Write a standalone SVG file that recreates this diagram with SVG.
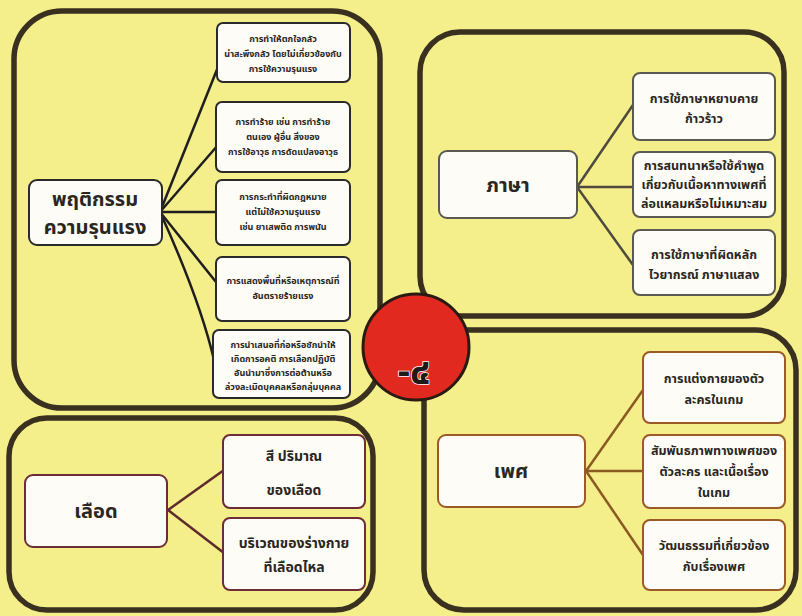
<svg xmlns="http://www.w3.org/2000/svg" width="802" height="616" viewBox="0 0 802 616">
<style>
text{font-family:"Noto Sans Thai","Noto Sans","DejaVu Sans",sans-serif;font-weight:bold;fill:#2a2622;text-anchor:middle}
.panel{fill:none;stroke:#3a3020;stroke-width:5.5}
.k{fill:#fdfcf6;stroke:#2a2a2a;stroke-width:2}
.g{fill:#fdfcf6;stroke:#5a5a52;stroke-width:2}
.m{fill:#fdfcf6;stroke:#6e2c38;stroke-width:2}
.b{fill:#fdfcf6;stroke:#9c5a26;stroke-width:2}
.s{font-size:9px}
.t{font-size:12.5px}
.u{font-size:14px}
.big{font-size:20px}
</style>
<rect width="802" height="616" fill="#f4ef8a"/>
<g id="panels">
<rect class="panel" x="14" y="11" width="366" height="397" rx="48"/>
<rect class="panel" x="420" y="32" width="364" height="284" rx="40"/>
<rect class="panel" x="9" y="418" width="364" height="192" rx="38"/>
<rect class="panel" x="424" y="330" width="372" height="280" rx="40"/>
</g>
<g id="connectors" fill="none">
<g stroke="#1e1e1e" stroke-width="2.5">
<line x1="160" y1="212" x2="220" y2="62"/>
<line x1="160" y1="212" x2="218" y2="145"/>
<line x1="160" y1="212" x2="218" y2="212"/>
<line x1="160" y1="212" x2="216" y2="282"/>
<path d="M160 212 Q200 300 214 360"/>
</g>
<g stroke="#4e4a3e" stroke-width="2.5">
<line x1="577" y1="187" x2="633" y2="105"/>
<line x1="577" y1="187" x2="633" y2="187"/>
<line x1="577" y1="187" x2="633" y2="265"/>
</g>
<g stroke="#5e2a2e" stroke-width="2.5">
<line x1="168" y1="510" x2="224" y2="470"/>
<line x1="168" y1="510" x2="224" y2="553"/>
</g>
<g stroke="#8a5a22" stroke-width="2.5">
<line x1="586" y1="471" x2="643" y2="390"/>
<line x1="586" y1="471" x2="643" y2="471"/>
<line x1="586" y1="471" x2="643" y2="555"/>
</g>
</g>
<g id="violence">
<rect class="k" x="29" y="180" width="133" height="65" rx="8"/>
<text class="big" x="95" y="206">พฤติกรรม</text>
<text class="big" x="95" y="234">ความรุนแรง</text>
</g>
<g id="v1">
<rect class="k" x="217" y="23" width="133" height="59" rx="6"/>
<text class="s" x="283" y="42">การทำให้ตกใจกลัว</text>
<text class="s" x="283" y="57">น่าสะพึงกลัว โดยไม่เกี่ยวข้องกับ</text>
<text class="s" x="283" y="72">การใช้ความรุนแรง</text>
</g>
<g id="v2">
<rect class="k" x="216" y="102" width="134" height="70" rx="6"/>
<text class="s" x="283" y="125">การทำร้าย เช่น การทำร้าย</text>
<text class="s" x="283" y="140">ตนเอง ผู้อื่น สิ่งของ</text>
<text class="s" x="283" y="155">การใช้อาวุธ การดัดแปลงอาวุธ</text>
</g>
<g id="v3">
<rect class="k" x="216" y="180" width="134" height="65" rx="6"/>
<text class="s" x="283" y="200">การกระทำที่ผิดกฎหมาย</text>
<text class="s" x="283" y="215">แต่ไม่ใช้ความรุนแรง</text>
<text class="s" x="283" y="230">เช่น ยาเสพติด การพนัน</text>
</g>
<g id="v4">
<rect class="k" x="216" y="257" width="134" height="64" rx="6"/>
<text class="s" x="283" y="284">การแสดงพื้นที่หรือเหตุการณ์ที่</text>
<text class="s" x="283" y="299">อันตรายร้ายแรง</text>
</g>
<g id="v5">
<rect class="k" x="213" y="330" width="137" height="68" rx="6"/>
<text class="s" x="283" y="348">การนำเสนอที่ก่อหรือชักนำให้</text>
<text class="s" x="283" y="362">เกิดการอคติ การเลือกปฏิบัติ</text>
<text class="s" x="283" y="376">อันนำมาซึ่งการต่อต้านหรือ</text>
<text class="s" x="283" y="390">ล่วงละเมิดบุคคลหรือกลุ่มบุคคล</text>
</g>
<g id="language">
<rect class="g" x="439" y="151" width="138" height="67" rx="8"/>
<text class="big" x="508" y="192">ภาษา</text>
</g>
<g id="l1">
<rect class="g" x="633" y="73" width="142" height="67" rx="7"/>
<text class="t" x="704" y="103">การใช้ภาษาหยาบคาย</text>
<text class="t" x="704" y="123">ก้าวร้าว</text>
</g>
<g id="l2">
<rect class="g" x="633" y="152" width="142" height="65" rx="7"/>
<text class="t" x="704" y="170">การสนทนาหรือใช้คำพูด</text>
<text class="t" x="704" y="189">เกี่ยวกับเนื้อหาทางเพศที่</text>
<text class="t" x="704" y="208">ล่อแหลมหรือไม่เหมาะสม</text>
</g>
<g id="l3">
<rect class="g" x="633" y="230" width="142" height="65" rx="7"/>
<text class="t" x="704" y="259">การใช้ภาษาที่ผิดหลัก</text>
<text class="t" x="704" y="279">ไวยากรณ์ ภาษาแสลง</text>
</g>
<g id="blood">
<rect class="m" x="25" y="475" width="142" height="72" rx="8"/>
<text class="big" x="96" y="518">เลือด</text>
</g>
<g id="b1">
<rect class="m" x="223" y="435" width="142" height="73" rx="7"/>
<text class="u" x="294" y="461">สี ปริมาณ</text>
<text class="u" x="294" y="495">ของเลือด</text>
</g>
<g id="b2">
<rect class="m" x="223" y="518" width="142" height="72" rx="7"/>
<text class="u" x="294" y="548">บริเวณของร่างกาย</text>
<text class="u" x="294" y="572">ที่เลือดไหล</text>
</g>
<g id="sex">
<rect class="b" x="438" y="435" width="147" height="72" rx="8"/>
<text class="big" x="511" y="478">เพศ</text>
</g>
<g id="s1">
<rect class="b" x="643" y="352" width="142" height="71" rx="7"/>
<text class="t" x="714" y="383">การแต่งกายของตัว</text>
<text class="t" x="714" y="404">ละครในเกม</text>
</g>
<g id="s2">
<rect class="b" x="643" y="435" width="142" height="73" rx="7"/>
<text class="t" x="714" y="455">สัมพันธภาพทางเพศของ</text>
<text class="t" x="714" y="476">ตัวละคร และเนื้อเรื่อง</text>
<text class="t" x="714" y="497">ในเกม</text>
</g>
<g id="s3">
<rect class="b" x="643" y="520" width="142" height="70" rx="7"/>
<text class="t" x="714" y="550">วัฒนธรรมที่เกี่ยวข้อง</text>
<text class="t" x="714" y="571">กับเรื่องเพศ</text>
</g>
<g id="center">
<circle cx="416" cy="347" r="53" fill="#e2291f" stroke="#2a1a12" stroke-width="3"/>
<text x="414" y="384" style="font-size:38px;fill:#1e1a1a;stroke:#ffffff;stroke-width:1.5;paint-order:stroke">-๔</text>
</g>
</svg>
